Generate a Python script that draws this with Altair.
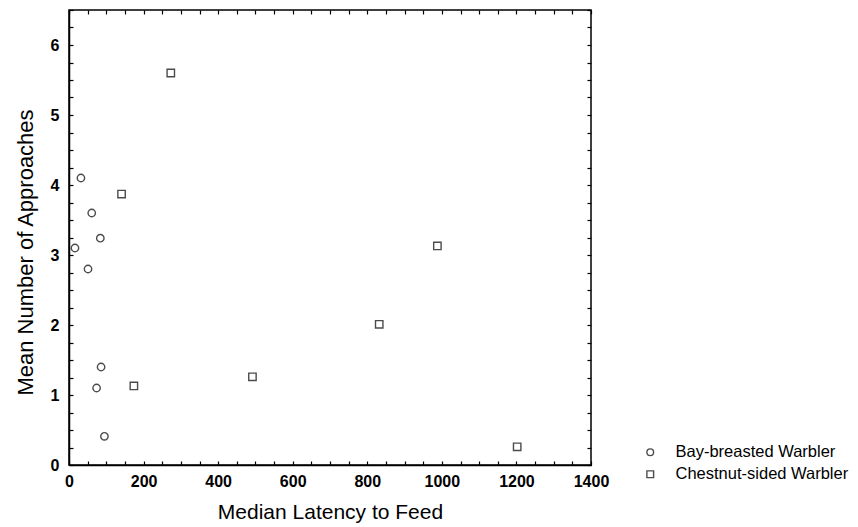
import altair as alt
import pandas as pd

bay_x = [16, 32, 61, 84, 51, 86, 74, 95]
bay_y = [3.10, 4.10, 3.60, 3.24, 2.80, 1.40, 1.10, 0.41]
chest_x = [273, 141, 174, 492, 832, 1202, 988]
chest_y = [5.60, 3.87, 1.13, 1.26, 2.01, 0.26, 3.13]
species = ["Bay-breasted Warbler", "Chestnut-sided Warbler"]
x_ticks = [0, 200, 400, 600, 800, 1000, 1200, 1400]
y_ticks = [0, 1, 2, 3, 4, 5, 6]
x_minor = list(range(0, 1401, 50))
y_minor = [i * 0.25 for i in range(0, 27)]

df = pd.DataFrame({
    "x": bay_x + chest_x,
    "y": bay_y + chest_y,
    "species": [species[0]] * len(bay_x) + [species[1]] * len(chest_x),
})

font = "Liberation Sans"
xscale = alt.Scale(domain=[0, 1400], nice=False)
yscale = alt.Scale(domain=[0, 6.5], nice=False)

axis_common = dict(grid=False, ticks=False, domainColor="black", domainWidth=1.5,
                   labelColor="black", titleColor="black", format="d", labelFlush=False,
                   labelFont=font, titleFont=font, labelFontSize=16,
                   labelFontWeight="bold", titleFontWeight="normal")

points = alt.Chart(df).mark_point(filled=False, strokeWidth=1.4, color="black", size=55).encode(
    x=alt.X("x:Q", title="Median Latency to Feed", scale=xscale,
            axis=alt.Axis(values=x_ticks, labelPadding=8, titlePadding=12, titleFontSize=21,
                          **axis_common)),
    y=alt.Y("y:Q", title="Mean Number of Approaches", scale=yscale,
            axis=alt.Axis(values=y_ticks, labelPadding=10, titlePadding=13, titleFontSize=22,
                          titleY=242, **axis_common)),
    shape=alt.Shape("species:N", scale=alt.Scale(domain=species, range=["circle", "square"]),
                    legend=alt.Legend(title=None, orient="none", legendX=573, legendY=434,
                                      labelFont=font, labelFontSize=16.5, labelColor="black",
                                      labelLimit=0,
                                      symbolStrokeColor="black", symbolStrokeWidth=1.4,
                                      symbolSize=45, labelOffset=17, rowPadding=5)),
)

tick_axis = dict(domain=False, labels=False, grid=False, title=None, ticks=True,
                 tickSize=4, tickColor="black", tickWidth=1.2)


def tick_layer(xo, yo):
    return alt.Chart(df).mark_point(opacity=0).encode(
        x=alt.X("x:Q", scale=xscale,
                axis=alt.Axis(orient=xo, values=x_minor, offset=-4, **tick_axis)),
        y=alt.Y("y:Q", scale=yscale,
                axis=alt.Axis(orient=yo, values=y_minor, offset=-4, **tick_axis)),
    )


chart = alt.layer(points, tick_layer("bottom", "left"), tick_layer("top", "right")).resolve_axis(
    x="independent", y="independent"
).properties(
    width=522, height=455,
    autosize=alt.AutoSizeParams(type="none"),
    padding={"left": 69, "top": 10, "right": 267, "bottom": 62},
).configure(background="white").configure_view(stroke="black", strokeWidth=1.5)

chart.save("out.html", embed_options={"renderer": "svg", "actions": False})
